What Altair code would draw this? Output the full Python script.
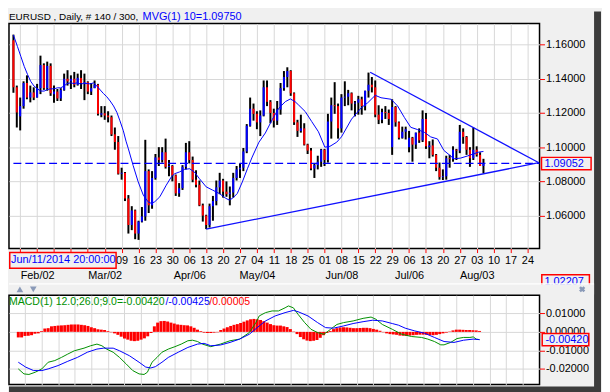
import json
import altair as alt
import pandas as pd

# ---------------- data (EURUSD daily, Jan 22 .. Aug 5 2015, 140 bars) ----------------
opens = [1.1625,1.1350,1.1180,1.1240,1.1375,1.1290,1.1320,1.1290,1.1345,1.1480,
         1.1345,1.1475,1.1310,1.1325,1.1285,1.1335,1.1400,1.1385,1.1400,1.1365,
         1.1405,1.1375,1.1380,1.1325,1.1345,1.1365,1.1190,1.1198,1.1185,1.1175,
         1.1075,1.1030,1.0845,1.0850,1.0700,1.0545,1.0630,1.0495,1.0565,1.0595,
         1.0860,1.0660,1.0820,1.0940,1.0925,1.0970,1.0885,1.0890,1.0835,1.0730,
         1.0760,1.0885,1.0970,1.0925,1.0810,1.0780,1.0660,1.0600,1.0545,1.0655,
         1.0685,1.0765,1.0805,1.0740,1.0725,1.0735,1.0820,1.0870,1.0880,1.0975,
         1.1125,1.1225,1.1195,1.1145,1.1185,1.1350,1.1265,1.1200,1.1155,1.1220,
         1.1345,1.1410,1.1445,1.1315,1.1145,1.1095,1.1110,1.1015,1.0980,1.0875,
         1.0895,1.0915,1.0985,1.0925,1.1150,1.1245,1.1240,1.1110,1.1290,1.1295,
         1.1315,1.1255,1.1260,1.1280,1.1240,1.1330,1.1365,1.1350,1.1190,1.1160,
         1.1205,1.1200,1.1000,1.1235,1.1145,1.1055,1.1090,1.1000,1.1055,1.1015,
         1.1085,1.1040,1.1165,1.1000,1.1010,1.0955,1.0880,1.0825,1.0830,1.0935,
         1.0930,1.0985,1.0980,1.1090,1.1060,1.0985,1.0935,1.0985,1.0955,1.0890]
highs = [1.1658,1.1360,1.1290,1.1385,1.1420,1.1360,1.1350,1.1370,1.1535,1.1490,
         1.1500,1.1490,1.1360,1.1340,1.1345,1.1430,1.1450,1.1420,1.1440,1.1430,
         1.1450,1.1430,1.1385,1.1375,1.1390,1.1370,1.1240,1.1240,1.1210,1.1185,
         1.1115,1.1065,1.0880,1.0855,1.0720,1.0655,1.0635,1.0570,1.0650,1.1043,
         1.0870,1.0860,1.0960,1.1000,1.1000,1.1050,1.0925,1.0895,1.0840,1.0790,
         1.0895,1.1025,1.1035,1.0945,1.0865,1.0805,1.0670,1.0605,1.0670,1.0715,
         1.0805,1.0850,1.0815,1.0800,1.0770,1.0850,1.0890,1.0905,1.0995,1.1135,
         1.1290,1.1255,1.1210,1.1215,1.1390,1.1390,1.1275,1.1225,1.1270,1.1375,
         1.1445,1.1467,1.1450,1.1320,1.1160,1.1190,1.1140,1.1020,1.0995,1.0905,
         1.0950,1.0990,1.0990,1.1195,1.1290,1.1380,1.1255,1.1310,1.1385,1.1335,
         1.1320,1.1270,1.1300,1.1295,1.1330,1.1436,1.1410,1.1390,1.1245,1.1225,
         1.1240,1.1220,1.1280,1.1240,1.1150,1.1120,1.1120,1.1095,1.1060,1.1085,
         1.1110,1.1215,1.1200,1.1035,1.1045,1.0960,1.0910,1.0870,1.0950,1.0955,
         1.1005,1.0990,1.1130,1.1110,1.1065,1.1000,1.1115,1.1005,1.0970,1.0932]
lows = [1.1318,1.1115,1.1098,1.1225,1.1280,1.1262,1.1275,1.1290,1.1310,1.1335,
        1.1330,1.1300,1.1260,1.1270,1.1270,1.1330,1.1360,1.1340,1.1350,1.1360,
        1.1340,1.1275,1.1310,1.1305,1.1345,1.1185,1.1175,1.1160,1.1145,1.1065,
        1.0985,1.0840,1.0810,1.0685,1.0495,1.0515,1.0462,1.0458,1.0560,1.0570,
        1.0615,1.0640,1.0810,1.0890,1.0910,1.0875,1.0830,1.0800,1.0715,1.0710,
        1.0750,1.0870,1.0905,1.0795,1.0765,1.0655,1.0565,1.0521,1.0530,1.0570,
        1.0660,1.0725,1.0705,1.0710,1.0660,1.0705,1.0805,1.0820,1.0860,1.0965,
        1.1120,1.1155,1.1105,1.1065,1.1180,1.1240,1.1140,1.1115,1.1130,1.1190,
        1.1330,1.1350,1.1300,1.1130,1.1060,1.1085,1.1010,1.0960,1.0865,1.0820,
        1.0870,1.0885,1.0890,1.0910,1.1050,1.1195,1.1050,1.1085,1.1240,1.1245,
        1.1215,1.1180,1.1190,1.1190,1.1215,1.1290,1.1320,1.1175,1.1135,1.1140,
        1.1165,1.1130,1.0955,1.1120,1.1045,1.1050,1.1045,1.0970,1.0915,1.0990,
        1.1025,1.1030,1.0990,1.0935,1.0945,1.0860,1.0810,1.0808,1.0810,1.0880,
        1.0915,1.0925,1.0965,1.1020,1.0955,1.0885,1.0925,1.0945,1.0890,1.0847]
closes = [1.1350,1.1203,1.1240,1.1375,1.1290,1.1320,1.1290,1.1345,1.1480,1.1345,
          1.1475,1.1315,1.1325,1.1285,1.1335,1.1400,1.1385,1.1400,1.1365,1.1405,
          1.1375,1.1380,1.1325,1.1345,1.1365,1.1195,1.1198,1.1185,1.1175,1.1075,
          1.1030,1.0845,1.0850,1.0700,1.0545,1.0630,1.0495,1.0565,1.0595,1.0860,
          1.0660,1.0820,1.0940,1.0925,1.0970,1.0885,1.0890,1.0835,1.0730,1.0760,
          1.0885,1.0970,1.0925,1.0810,1.0780,1.0660,1.0600,1.0545,1.0655,1.0685,
          1.0765,1.0805,1.0740,1.0725,1.0735,1.0820,1.0870,1.0880,1.0975,1.1125,
          1.1225,1.1195,1.1145,1.1185,1.1350,1.1265,1.1200,1.1155,1.1220,1.1345,
          1.1410,1.1445,1.1315,1.1145,1.1095,1.1110,1.1015,1.0980,1.0875,1.0895,
          1.0915,1.0985,1.0925,1.1150,1.1245,1.1240,1.1110,1.1290,1.1295,1.1315,
          1.1255,1.1260,1.1280,1.1240,1.1330,1.1365,1.1350,1.1190,1.1160,1.1205,
          1.1200,1.1165,1.1235,1.1145,1.1055,1.1090,1.1105,1.1055,1.1015,1.1085,
          1.1040,1.1165,1.1005,1.1010,1.0955,1.0880,1.0825,1.0830,1.0935,1.0930,
          1.0985,1.0980,1.1090,1.1060,1.0985,1.0935,1.0985,1.0955,1.0890,1.09052]

# 10-period moving average (bar index, value)
ma_idx = [0,1.2,2.2,3.2,4.2,5.1,6.1,7.1,8.1,9.1,10,11,12,13,14,14.9,15.9,16.9,17.9,18.8,
          19.8,20.8,21.8,22.7,23.7,24.7,25.7,26.6,27.6,28.6,29.6,30.6,31.5,32.5,33.3,34,35.4,
          36.9,38.4,39.8,40.8,41.8,43.3,45.2,46.7,47.7,49.1,50.6,52.1,53.5,55,57,58.9,60.9,
          62.8,63.8,64.8,66.2,67.7,69.2,70.6,72.6,74.5,76.5,78.5,80.4,81.9,83.3,84.3,86.3,
          88.2,90.2,92.1,93.6,95.6,97,100,102.9,104.8,107,108.7,111.7,113.6,115.6,117.5,
          119.5,121.5,123.4,125.4,127.3,130.3,132.2,134.2,136.1,137.6,139]
ma_val = [1.1656,1.1588,1.1530,1.1472,1.1424,1.1385,1.1357,1.1341,1.1328,1.1328,1.1337,
          1.1341,1.1341,1.1347,1.1347,1.1357,1.1372,1.1376,1.1372,1.1376,1.1370,1.1372,
          1.1372,1.1370,1.1376,1.1357,1.1334,1.1314,1.1295,1.1270,1.1241,1.1203,1.1154,
          1.1096,1.1035,1.0990,1.0893,1.0797,1.0720,1.0681,1.0671,1.0681,1.0710,1.0778,
          1.0826,1.0845,1.0855,1.0870,1.0874,1.0855,1.0816,1.0768,1.0749,1.0729,1.0701,
          1.0691,1.0701,1.0729,1.0797,1.0874,1.0942,1.1029,1.1083,1.1160,1.1228,1.1266,
          1.1282,1.1266,1.1247,1.1208,1.1150,1.1090,1.1000,1.1005,1.1029,1.1060,1.1164,
          1.1231,1.1260,1.1303,1.1289,1.1280,1.1241,1.1174,1.1116,1.1103,1.1087,1.1060,
          1.1048,1.0981,1.0932,1.0936,1.0948,1.0961,1.0971,1.0975]

# MACD line, signal line and histogram per bar
macd_idx = [0,1.7,3.2,5.1,7.1,9,11,13,14.9,16.9,19.8,21.8,23.7,25.2,26.6,28.6,30.5,32.5,34.5,
            36.4,37.9,38.9,40.3,41.8,43.3,45.2,47.2,49.1,51.1,52.5,54,55.5,58,60.9,63.8,66.7,
            69.6,71.6,72.6,74.5,76.5,78.4,80.4,81.4,82.9,84.3,86.3,88.2,90.2,92.1,94.1,96,98,
            100.9,103.9,106.3,107.8,109.7,112.7,114.6,115.6,118.5,121.5,123.4,125.4,127.3,
            128.3,130.3,132.2,134.2,136.1,137.1,138,139]
macd_val = [-0.0200,-0.0227,-0.0230,-0.0218,-0.0200,-0.0164,-0.0155,-0.0138,-0.0120,-0.0102,
            -0.0088,-0.0075,-0.0066,-0.0075,-0.0093,-0.0110,-0.0138,-0.0173,-0.0209,-0.0227,
            -0.0230,-0.0218,-0.0164,-0.0138,-0.0110,-0.0093,-0.0080,-0.0066,-0.0048,-0.0045,
            -0.0052,-0.0066,-0.0080,-0.0066,-0.0048,-0.0039,-0.0004,0.0050,0.0086,0.0104,
            0.0113,0.0113,0.0130,0.0140,0.0130,0.0095,0.0050,0.0014,-0.0004,-0.0013,0.0014,
            0.0040,0.0050,0.0059,0.0073,0.0080,0.0068,0.0040,0.0014,-0.0004,-0.0013,-0.0025,
            -0.0030,-0.0039,-0.0052,-0.0070,-0.0070,-0.0057,-0.0036,-0.0030,-0.0030,-0.0027,
            -0.0039,-0.0042]
sig_idx = [0,2.2,4.6,7.1,9,12,14.9,17.8,20.8,23.7,25.7,28.6,30.5,33.5,36.4,38.4,39.9,41.3,
           43.3,45.2,48.2,51.1,54,56,58,60.9,63.8,66.7,69.6,72.6,74.5,77.4,80.4,82.9,84.3,
           87.3,90.2,92.6,95,98,100.9,103.9,106.8,109.7,112.7,114.6,116.6,119.5,122.4,125.4,
           128.3,131.3,134.2,137.1,139]
sig_val = [-0.0164,-0.0190,-0.0209,-0.0209,-0.0200,-0.0182,-0.0159,-0.0138,-0.0110,-0.0093,
           -0.0088,-0.0088,-0.0102,-0.0129,-0.0164,-0.0190,-0.0195,-0.0188,-0.0164,-0.0138,
           -0.0110,-0.0084,-0.0066,-0.0062,-0.0075,-0.0071,-0.0057,-0.0039,-0.0013,0.0032,
           0.0059,0.0086,0.0104,0.0116,0.0109,0.0086,0.0050,0.0023,0.0020,0.0032,0.0045,
           0.0055,0.0063,0.0059,0.0045,0.0036,0.0020,0.0005,-0.0007,-0.0030,-0.0052,-0.0057,
           -0.0045,-0.0039,-0.0042]
hist_val = [-0.0030,-0.0030,-0.0022,-0.0021,-0.0018,-0.0010,-0.0008,0.0005,0.0018,0.0020,
            0.0030,0.0032,0.0034,0.0035,0.0036,0.0038,0.0040,0.0040,0.0040,0.0038,
            0.0036,0.0032,0.0025,0.0020,0.0014,0.0012,0.0010,0.0004,-0.0002,-0.0008,
            -0.0016,-0.0026,-0.0036,-0.0042,-0.0048,-0.0050,-0.0048,-0.0042,-0.0035,-0.0024,
            -0.0006,0.0030,0.0050,0.0058,0.0059,0.0056,0.0050,0.0045,0.0040,0.0038,
            0.0036,0.0035,0.0030,0.0022,0.0012,0.0004,-0.0004,-0.0006,-0.0006,-0.0004,
            -0.0002,0.0010,0.0018,0.0025,0.0032,0.0038,0.0042,0.0048,0.0055,0.0062,
            0.0068,0.0070,0.0068,0.0064,0.0058,0.0050,0.0042,0.0036,0.0034,0.0034,
            0.0030,0.0026,0.0015,0.0002,-0.0012,-0.0028,-0.0040,-0.0047,-0.0050,-0.0048,
            -0.0044,-0.0032,-0.0018,-0.0006,0.0005,0.0015,0.0020,0.0024,0.0025,0.0024,
            0.0022,0.0020,0.0020,0.0021,0.0022,0.0022,0.0020,0.0016,0.0012,0.0006,
            -0.0002,-0.0008,-0.0012,-0.0014,-0.0016,-0.0020,-0.0021,-0.0022,-0.0020,-0.0018,
            -0.0016,-0.0015,-0.0015,-0.0016,-0.0017,-0.0018,-0.0016,-0.0012,-0.0008,-0.0004,
            0.0002,0.0008,0.0012,0.0012,0.0011,0.0010,0.0010,0.0009,0.0008,0.0005]

# weekly (Monday) axis labels; the first weeks are hidden under the cursor-date box
week_days = ["", "", "", "", "", "", "09","16","23","30","06","13","20","27","04",
             "11","18","25","01","08","15","22","29","06","13","20","27","03","10","17","24"]
month_labels = {1: "Feb/02", 5: "Mar/02", 10: "Apr/06", 14: "May/04", 19: "Jun/08",
                23: "Jul/06", 27: "Aug/03"}
price_ticks = [1.06, 1.08, 1.10, 1.12, 1.14, 1.16]
macd_ticks = [-0.02, -0.01, 0.0, 0.01]

last_close = 1.09052
trend_idx = [57, 155.4, 105.5, 155.4]
trend_val = [1.0521, 1.0909, 1.1438, 1.0909]
trend_name = ["support", "support", "resistance", "resistance"]

title_black = "EURUSD , Daily, # 140 / 300, "
title_blue = "MVG(1) 10=1.09750"
macd_txt = ["MACD(1) 12.0;26.0;9.0=-0.00420", "/-0.00425", "/0.00005"]
cursor_txt = "Jun/11/2014 20:00:00"
price_box_txt = "1.09052"
low_box_txt = "1.02207"
macd_box_txt = "-0.00420"

# ---------------- styling ----------------
GRID = "#d8d8d8"
BG = "#f0f0f0"
FONT = "Liberation Sans"
BLUE = "#0000ff"
RED = "#ff0000"
GREEN = "#009000"
XMIN, XMAX = -1.31, 155.58

n = len(closes)
bars = pd.DataFrame({"i": list(range(n)), "o": opens, "h": highs, "l": lows, "c": closes})
bars["top"] = bars[["o", "c"]].max(axis=1)
bars["bot"] = bars[["o", "c"]].min(axis=1)
bars["dir"] = ["up" if c > o else ("down" if c < o else "flat") for o, c in zip(opens, closes)]

week_vals = [2 + 5 * k for k in range(len(week_days))]
label_items = [[d, month_labels[k]] if k in month_labels else d for k, d in enumerate(week_days)]
label_expr = json.dumps(label_items).replace('"', "'") + "[(datum.value - 2) / 5]"

xs = alt.Scale(domain=[XMIN, XMAX], nice=False, zero=False)
ys = alt.Scale(domain=[1.0407, 1.1723], nice=False, zero=False)
ms = alt.Scale(domain=[-0.0284, 0.0198], nice=False, zero=False)

x_top_axis = alt.Axis(values=week_vals, labelExpr=label_expr, grid=True, gridColor=GRID,
                      domain=False, tickColor=RED, tickSize=4, labelPadding=2,
                      labelFont=FONT, labelFontSize=11, labelColor="#000000",
                      labelLineHeight=15, labelOverlap=False, labelFlush=False,
                      labelBound=False, title=None, zindex=0)
y_top_axis = alt.Axis(orient="right", values=price_ticks, format=".5f", grid=True,
                      gridColor=GRID, domain=False, tickColor=RED, tickSize=5,
                      labelPadding=1, labelFont=FONT, labelFontSize=11,
                      labelColor="#000000", title=None, labelOverlap=False,
                      labelFlush=False, zindex=0)
x_bot_axis = alt.Axis(values=week_vals, grid=True, gridColor=GRID, labels=False,
                      ticks=False, domain=False, title=None, zindex=0)
y_bot_axis = alt.Axis(orient="right", values=macd_ticks,
                      labelExpr="replace(format(datum.value, '.5f'), '\u2212', '-')",
                      grid=True, gridColor=GRID, domain=False, tickColor=RED, tickSize=5,
                      labelPadding=1, labelFont=FONT, labelFontSize=11,
                      labelColor="#000000", title=None, labelOverlap=False,
                      labelFlush=False, zindex=0)


def XT(f="i"):
    return alt.X(f + ":Q", scale=xs, axis=x_top_axis)


def YT(f):
    return alt.Y(f + ":Q", scale=ys, axis=y_top_axis)


def XB(f="i"):
    return alt.X(f + ":Q", scale=xs, axis=x_bot_axis)


def YB(f):
    return alt.Y(f + ":Q", scale=ms, axis=y_bot_axis)


one = pd.DataFrame({"k": [0]})


def box(x1, x2, y1, y2, fill, stroke=None, sw=0):
    kw = dict(fill=fill, strokeWidth=sw)
    if stroke:
        kw["stroke"] = stroke
    return alt.Chart(one).mark_rect(**kw).encode(
        x=alt.value(x1), x2=alt.value(x2), y=alt.value(y1), y2=alt.value(y2))


def label(txt, x, y, color, size=11, weight="normal", font=FONT):
    return alt.Chart(pd.DataFrame({"t": [txt]})).mark_text(
        align="left", baseline="middle", font=font, fontSize=size, color=color,
        fontWeight=weight).encode(x=alt.value(x), y=alt.value(y), text="t:N")


def glyph(shape, x, y, size, angle=0):
    kw = dict(shape=shape, filled=True, size=size, color="#8a9ab8", opacity=1)
    if angle:
        kw["angle"] = angle
    return alt.Chart(one).mark_point(**kw).encode(x=alt.value(x), y=alt.value(y))


# ---------------- price panel ----------------
wicks = alt.Chart(bars).mark_rule(color="#000000", strokeWidth=2).encode(
    x=XT(), y=YT("l"), y2="h:Q")
bodies = alt.Chart(bars).mark_rule(strokeWidth=2).encode(
    x=XT(), y=YT("bot"), y2="top:Q",
    color=alt.Color("dir:N", scale=alt.Scale(domain=["up", "down", "flat"],
                                             range=[BLUE, RED, "#000000"]), legend=None))
ma_line = alt.Chart(pd.DataFrame({"i": ma_idx, "v": ma_val})).mark_line(
    color=BLUE, strokeWidth=1).encode(x=XT(), y=YT("v"))
dash = alt.Chart(pd.DataFrame({"a": [0], "b": [XMAX], "v": [last_close]})).mark_rule(
    color=BLUE, strokeWidth=1.3, strokeDash=[8, 4]).encode(x=XT("a"), x2="b:Q", y=YT("v"))
trends = alt.Chart(pd.DataFrame({"i": trend_idx, "v": trend_val, "g": trend_name})).mark_line(
    color="#1010ff", strokeWidth=1.3).encode(x=XT(), y=YT("v"), detail="g:N")

deco_top = [
    box(590, 597, -12, 372, "#3c3c3c"),
    box(0, 597, 366, 372, "#3c3c3c"),
    box(537, 587, 135, 147.5, BG, RED, 1.5),
    label(price_box_txt, 540, 141.5, BLUE),
    box(0.75, 108, 231, 246.7, BG, RED, 1.5),
    label(cursor_txt, 2, 239, BLUE),
    box(537.3, 585.3, 253.3, 266, BG, RED, 1.5),
    label(low_box_txt, 540, 260.7, BLUE),
    box(0, 590, 263, 273.3, BG),
    box(0, 590, 262, 263.2, "#ffffff"),
    glyph("triangle-up", 11, 268, 45),
    glyph("triangle-down", 24.5, 268, 45),
    glyph("cross", 578, 268, 40, angle=45),
    label(title_black, 0, -6.5, "#000000", size=10),
    label(title_blue, 134.7, -6.5, BLUE, size=11),
]

top = alt.layer(wicks, bodies, ma_line, dash, trends, *deco_top).properties(
    width=535, height=227)

# ---------------- MACD panel ----------------
hist = alt.Chart(pd.DataFrame({"i": list(range(n)), "h": hist_val})).mark_bar(
    size=3, color=RED).encode(x=XB(), y=YB("h"), y2=alt.datum(0))
macd_line = alt.Chart(pd.DataFrame({"i": macd_idx, "v": macd_val})).mark_line(
    color=GREEN, strokeWidth=1).encode(x=XB(), y=YB("v"))
sig_line = alt.Chart(pd.DataFrame({"i": sig_idx, "v": sig_val})).mark_line(
    color=BLUE, strokeWidth=1).encode(x=XB(), y=YB("v"))

deco_bot = [
    label(macd_txt[0], 0, 6.7, GREEN, size=10.6),
    label(macd_txt[1], 157.7, 6.7, BLUE, size=10.6),
    label(macd_txt[2], 202, 6.7, RED, size=10.6),
    box(537.7, 584.7, 38.7, 51, BG, RED, 1.5),
    label(macd_box_txt, 541, 45, BLUE),
]

bottom = alt.layer(hist, macd_line, sig_line, *deco_bot).properties(width=535, height=90)

chart = alt.vconcat(top, bottom, spacing=47, bounds="flush").properties(
    background=BG, padding=0
).configure_view(fill="#ffffff", stroke="#000000", strokeWidth=1.5)

chart.save("out.html", embed_options={"renderer": "svg", "actions": False})
